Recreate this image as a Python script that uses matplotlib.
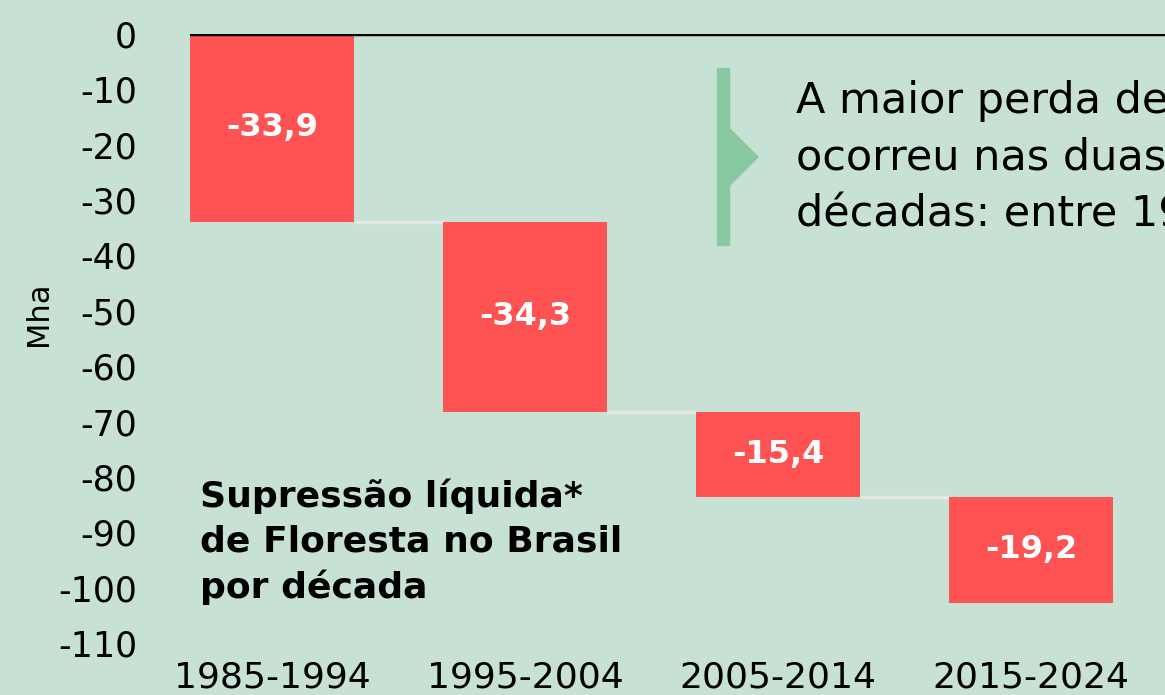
import numpy as np
from matplotlib import pyplot as plt
from matplotlib.patches import Rectangle, Polygon

#%% data
decades = ["1985-1994", "1995-2004", "2005-2014", "2015-2024"]
losses = [-33.9, -34.3, -15.4, -19.2]   # Mha
bar_labels = ["-33,9", "-34,3", "-15,4", "-19,2"]
yticks = list(range(0, -111, -10))

BG = "#c7e2d4"
RED = "#ff5252"
GREEN = "#88c9a1"

#%% waterfall
fig = plt.figure(figsize=(11.65, 6.95), dpi=100, facecolor=BG)
ax = fig.add_axes([190/1165, 1 - 654/695, 1 - 190/1165, 620/695])
ax.set_facecolor(BG)

x = np.arange(len(decades))
ends = np.cumsum(losses)
starts = ends - np.array(losses)
w = 0.65

ax.bar(x, losses, bottom=starts, width=w, color=RED, zorder=3)

# connectors between bars
for i in range(len(x) - 1):
    ax.plot([x[i] + w/2, x[i+1] - w/2], [ends[i], ends[i]],
            color="#e4e8e6", lw=2.5, zorder=2, solid_capstyle="butt")

for xi, s, v, lab in zip(x, starts, losses, bar_labels):
    ax.text(xi, s + v/2, lab, ha="center", va="center", color="white",
            fontsize=23, fontweight="bold", zorder=4)

ax.axhline(0, color="black", lw=2.5, zorder=5)

ax.set_xlim(-w/2, -w/2 + 975/253)
ax.set_ylim(-112, 0)
ax.set_yticks(yticks)
ax.set_yticklabels([str(t) for t in yticks])
ax.set_xticks(x)
ax.set_xticklabels(decades)
ax.tick_params(axis="y", length=0, pad=38, labelsize=25)
ax.tick_params(axis="x", length=0, pad=5, labelsize=26)
for sp in ax.spines.values():
    sp.set_visible(False)

fig.text(38/1165, 1 - 314/695, "Mha", rotation=90, ha="center", va="center", fontsize=22)

# title inside the plot
fig.text(200/1165, 1 - 478/695, "Supressão líquida*\nde Floresta no Brasil\npor década",
         ha="left", va="top", fontsize=26, fontweight="bold", linespacing=1.4)

# annotation marker + text (cut off at right edge, as in the source)
fig.patches.append(Rectangle((717/1165, 1 - 245/695), 12/1165, 177/695,
                             transform=fig.transFigure, color=GREEN))
fig.patches.append(Polygon([(729/1165, 1 - 128/695), (758/1165, 1 - 157/695),
                            (729/1165, 1 - 186/695)], closed=True,
                           transform=fig.transFigure, color=GREEN))
ax.text(796/1165, 1 - 80/695,
        "A maior perda de floresta\nocorreu nas duas primeiras\ndécadas: entre 1985 e 2004",
        transform=fig.transFigure, ha="left", va="top", fontsize=31,
        linespacing=1.45, clip_on=True)

fig.savefig("out.png", dpi=100, facecolor=BG)
